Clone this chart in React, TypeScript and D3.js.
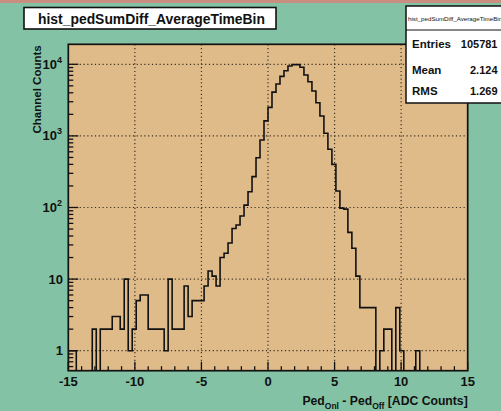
import { useEffect, useRef } from "react";
import * as d3 from "d3";

// histogram: 100 bins from -15 to 15
const histLow = -15;
const histHigh = 15;
const counts = [
  1, 1, 0, 0, 0, 0, 2, 0, 2, 2,
  2, 3, 3, 2, 10, 1, 2, 5, 6, 6,
  2, 2, 2, 2, 1, 10, 2, 2, 2, 8,
  3, 5, 5, 5, 8, 13, 11, 8, 20, 23,
  32, 51, 57, 76, 108, 166, 270, 496, 875, 1620,
  2500, 4080, 5300, 6770, 8130, 9470, 9900, 9900, 9100, 7100,
  5710, 4240, 2910, 1900, 1090, 650, 400, 170, 98, 95,
  45, 27, 11, 4, 4, 4, 4, 0, 1, 2,
  2, 0, 4, 1, 0, 0, 0, 1, 0, 0,
  0, 0, 0, 0, 0, 0, 0, 0, 0, 0,
];
const xTicks = [-15, -10, -5, 0, 5, 10, 15];
const yTicks = [1, 10, 100, 1000, 10000];
const yTickLabels = [["1", ""], ["10", ""], ["10", "2"], ["10", "3"], ["10", "4"]];
const statsLabels = ["Entries", "Mean", "RMS"];
const statsValues = ["105781", "2.124", "1.269"];
const histName = "hist_pedSumDiff_AverageTimeBin";

export default function App() {
  const ref = useRef<SVGSVGElement>(null);

  useEffect(() => {
    const W = 501, H = 411;
    const L = 68.3, R = 467.7, T = 44.3, B = 370.7;
    const font = "'Liberation Sans', Arial, sans-serif";
    const bg = "#83c2a4";
    const pad = "#e0bb8a";

    const svg = d3.select(ref.current).attr("width", W).attr("height", H);
    svg.selectAll("*").remove();

    svg.append("rect").attr("width", W).attr("height", H).attr("fill", bg);
    svg.append("rect").attr("width", W).attr("height", 3).attr("fill", "#c98e80");

    const x = d3.scaleLinear().domain([-15, 15]).range([L, R]);
    const y = d3.scaleLog().domain([0.5256, 19020]).range([B, T]);

    svg.append("rect").attr("x", L).attr("y", T).attr("width", R - L).attr("height", B - T).attr("fill", pad);

    /* grid */
    const grid = svg.append("g").attr("stroke", "#3a3020").attr("stroke-width", 1.2).attr("stroke-dasharray", "1.2,2.6");
    xTicks.filter((d) => d > -15 && d < 15).forEach((d) => {
      grid.append("line").attr("x1", x(d)).attr("x2", x(d)).attr("y1", T).attr("y2", B);
    });
    yTicks.forEach((d) => {
      grid.append("line").attr("x1", L).attr("x2", R).attr("y1", y(d)).attr("y2", y(d));
    });

    /* ticks */
    const ticks = svg.append("g").attr("stroke", "#111").attr("stroke-width", 1.3);
    d3.range(-15, 16, 1).forEach((d) => {
      const len = d % 5 === 0 ? 9 : 4.5;
      ticks.append("line").attr("x1", x(d)).attr("x2", x(d)).attr("y1", B).attr("y2", B - len);
    });
    const [y0, y1] = y.domain();
    for (let e = -1; e <= 4; e++) {
      for (let m = 1; m <= 9; m++) {
        const v = m * Math.pow(10, e);
        if (v < y0 || v > y1) continue;
        const len = m === 1 ? 10 : 5;
        ticks.append("line").attr("x1", L).attr("x2", L + len).attr("y1", y(v)).attr("y2", y(v));
      }
    }

    /* histogram outline */
    const bw = (histHigh - histLow) / counts.length;
    const clampY = (v: number) => (v <= 0 ? B : Math.min(B, y(v)));
    const pts: [number, number][] = [[x(histLow), B]];
    counts.forEach((c, i) => {
      const xl = x(histLow + i * bw), xr = x(histLow + (i + 1) * bw);
      pts.push([xl, clampY(c)], [xr, clampY(c)]);
    });
    pts.push([x(histHigh), B]);
    svg.append("clipPath").attr("id", "frameClip").append("rect")
      .attr("x", L).attr("y", T).attr("width", R - L).attr("height", B - T);
    svg.append("path")
      .attr("d", d3.line()(pts))
      .attr("fill", "none")
      .attr("stroke", "#111")
      .attr("stroke-width", 1.6)
      .attr("clip-path", "url(#frameClip)");

    /* frame */
    svg.append("rect").attr("x", L).attr("y", T).attr("width", R - L).attr("height", B - T)
      .attr("fill", "none").attr("stroke", "#111").attr("stroke-width", 1.7);

    /* title box */
    svg.append("rect").attr("x", 24).attr("y", 7.5).attr("width", 252).attr("height", 21.5)
      .attr("fill", "#fff").attr("stroke", "#111").attr("stroke-width", 1.6);

    /* stats box */
    const sx = 406, sy = 6, sh = 97;
    svg.append("rect").attr("x", sx).attr("y", sy).attr("width", W - sx + 5).attr("height", sh)
      .attr("fill", "#fff").attr("stroke", "#111").attr("stroke-width", 1.5);
    svg.append("line").attr("x1", sx).attr("x2", W).attr("y1", 30).attr("y2", 30)
      .attr("stroke", "#111").attr("stroke-width", 1.2);
    svg.append("clipPath").attr("id", "statClip").append("rect")
      .attr("x", sx + 1).attr("y", sy).attr("width", W - sx - 1).attr("height", 24);
    svg.append("text").attr("x", sx + 2).attr("y", 20.5).attr("font-family", font)
      .attr("font-size", 6.2).attr("fill", "#111").attr("clip-path", "url(#statClip)").text(histName);

    /* text */
    const lab = svg.append("g").attr("font-family", font).attr("font-weight", "bold").attr("fill", "#111");
    xTicks.forEach((d) => {
      lab.append("text").attr("x", x(d)).attr("y", 386).attr("text-anchor", "middle")
        .attr("font-size", 13).text(d);
    });
    yTicks.forEach((d, i) => {
      const [base, sup] = yTickLabels[i];
      const t = lab.append("text").attr("x", sup ? 62 : 63).attr("y", y(d) + 4.5)
        .attr("text-anchor", "end").attr("font-size", 13);
      t.append("tspan").text(base);
      if (sup) t.append("tspan").attr("font-size", 9).attr("dy", -6).text(sup);
    });

    const xt = lab.append("text").attr("x", R).attr("y", 404.5).attr("text-anchor", "end").attr("font-size", 12.2);
    xt.append("tspan").text("Ped");
    xt.append("tspan").attr("font-size", 8.5).attr("dy", 4).text("Onl");
    xt.append("tspan").attr("dy", -4).text(" - Ped");
    xt.append("tspan").attr("font-size", 8.5).attr("dy", 4).text("Off");
    xt.append("tspan").attr("dy", -4).text(" [ADC Counts]");

    lab.append("text").attr("transform", `translate(40.5,${T + 1}) rotate(-90)`)
      .attr("text-anchor", "end").attr("font-size", 11.5).text("Channel Counts");

    lab.append("text").attr("x", 38).attr("y", 23.5).attr("font-size", 13.9).text(histName);

    const rowY = [47.5, 73.5, 95];
    statsLabels.forEach((s, i) => {
      lab.append("text").attr("x", 412).attr("y", rowY[i]).attr("font-size", 11.5).text(s);
      lab.append("text").attr("x", 497.5).attr("y", rowY[i]).attr("font-size", 11)
        .attr("text-anchor", "end").text(statsValues[i]);
    });
  }, []);

  return <svg ref={ref} style={{ position: "absolute", left: 0, top: 0 }} />;
}
